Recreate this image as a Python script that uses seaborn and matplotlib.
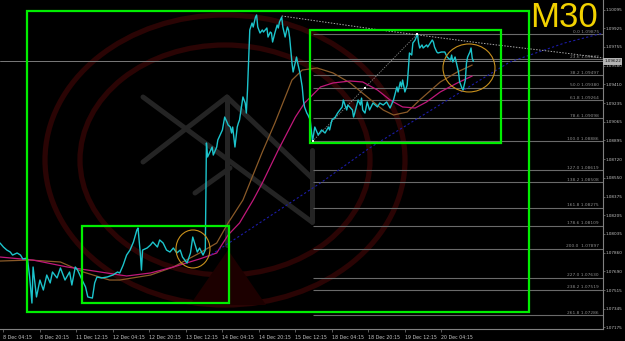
import numpy as np
import pandas as pd
import matplotlib
matplotlib.use('Agg')
import matplotlib.pyplot as plt
import matplotlib.transforms as mtransforms
from matplotlib.patches import Rectangle, Ellipse, Polygon
import seaborn as sns

# ---------------- data ----------------
price_bar = [0, 3, 6, 9, 11, 15, 18, 20, 24, 26,
             28, 29, 32, 35, 38, 41, 44, 46, 50, 53,
             57, 61, 63, 66, 68, 72, 75, 77, 81, 83,
             85, 89, 94, 99, 103, 105, 108, 111, 114, 117,
             120, 121, 123, 124, 125, 129, 132, 134, 138, 140,
             143, 146, 149, 152, 155, 158, 160, 164, 167, 169,
             173, 175, 178, 180, 181, 182, 186, 187, 190, 191,
             195, 197, 199, 200, 202, 203, 204, 206, 208, 209,
             210, 213, 215, 216, 217, 218, 219, 221, 222, 224,
             225, 226, 228, 230, 231, 234, 235, 237, 238, 239,
             241, 243, 244, 245, 247, 248, 250, 252, 253, 254,
             256, 257, 259, 260, 261, 263, 265, 266, 267, 269,
             270, 272, 274, 276, 279, 282, 285, 288, 289, 291,
             294, 296, 300, 301, 304, 305, 309, 310, 311, 314,
             316, 317, 318, 320, 322, 324, 327, 331, 333, 336,
             339, 342, 345, 348, 349, 351, 352, 353, 355, 357,
             358, 359, 361, 362, 364, 366, 367, 368, 370, 371,
             374, 375, 379, 380, 381, 383, 384, 387, 390, 392,
             395, 396, 397, 399, 401, 402, 403, 405, 406, 408,
             409, 410, 412, 413, 414, 415]
price_close = [1.07949, 1.07912, 1.07884, 1.07866, 1.07838, 1.07857, 1.07838, 1.07802, 1.07811, 1.07636,
               1.07396, 1.07728, 1.07452, 1.07608, 1.07516, 1.07654, 1.07581, 1.07682, 1.07627, 1.07719,
               1.07608, 1.07682, 1.07562, 1.07728, 1.07700, 1.07608, 1.07544, 1.07452, 1.07442, 1.07581,
               1.07636, 1.07627, 1.07636, 1.07654, 1.07682, 1.07673, 1.07746, 1.07838, 1.07884, 1.07958,
               1.08069, 1.08087, 1.07857, 1.07700, 1.07884, 1.07903, 1.07931, 1.07958, 1.07912, 1.07977,
               1.07949, 1.07884, 1.07866, 1.07903, 1.07857, 1.07884, 1.07820, 1.07765, 1.07857, 1.08004,
               1.07866, 1.07903, 1.07838, 1.07884, 1.08870, 1.08741, 1.08833, 1.08759, 1.08833, 1.08898,
               1.08990, 1.09109, 1.09063, 1.09036, 1.09017, 1.08962, 1.09017, 1.08833, 1.09017, 1.09054,
               1.09082, 1.09294, 1.09238, 1.09146, 1.09358, 1.09634, 1.09911, 1.09975, 1.09938, 1.10030,
               1.10049, 1.09938, 1.09883, 1.09911, 1.09892, 1.09929, 1.09846, 1.09892, 1.09883, 1.09800,
               1.09883, 1.09957, 1.09929, 1.09984, 1.10030, 1.09938, 1.09846, 1.09938, 1.09911, 1.09837,
               1.09607, 1.09524, 1.09616, 1.09662, 1.09607, 1.09515, 1.09386, 1.09266, 1.09202, 1.09146,
               1.09128, 1.09082, 1.08886, 1.09017, 1.08944, 1.08990, 1.08962, 1.09017, 1.08990, 1.09082,
               1.09109, 1.09146, 1.09202, 1.09266, 1.09174, 1.09220, 1.09174, 1.09109, 1.09146, 1.09266,
               1.09220, 1.09284, 1.09174, 1.09146, 1.09248, 1.09174, 1.09238, 1.09202, 1.09238, 1.09220,
               1.09248, 1.09192, 1.09266, 1.09386, 1.09340, 1.09432, 1.09386, 1.09450, 1.09340, 1.09404,
               1.09542, 1.09699, 1.09680, 1.09791, 1.09819, 1.09875, 1.09791, 1.09745, 1.09773, 1.09745,
               1.09773, 1.09754, 1.09819, 1.09800, 1.09754, 1.09708, 1.09699, 1.09708, 1.09708, 1.09662,
               1.09634, 1.09680, 1.09616, 1.09662, 1.09570, 1.09524, 1.09432, 1.09377, 1.09358, 1.09450,
               1.09607, 1.09662, 1.09708, 1.09745, 1.09653, 1.09622]

ma_slow_bar = [0, 26, 53, 73, 96, 105, 132, 152, 175, 190, 200, 213, 230, 241,
               256, 265, 278, 292, 307, 322, 336, 345, 357, 368, 386, 401, 414]
ma_slow_val = [1.07783, 1.07792, 1.07774, 1.07682, 1.07608, 1.07608, 1.07654, 1.07728,
               1.07857, 1.07949, 1.08133, 1.08345, 1.08787, 1.09054, 1.09450, 1.09542,
               1.09561, 1.09515, 1.09423, 1.09294, 1.09174, 1.09128, 1.09155, 1.09266,
               1.09432, 1.09524, 1.09588]

ma_fast_bar = [0, 29, 59, 88, 111, 132, 152, 175, 190, 200, 210, 222, 230, 244,
               259, 267, 281, 292, 307, 318, 331, 342, 353, 364, 374, 386, 401, 414]
ma_fast_val = [1.07820, 1.07792, 1.07728, 1.07682, 1.07645, 1.07673, 1.07728, 1.07802,
               1.07857, 1.08023, 1.08133, 1.08345, 1.08502, 1.08806, 1.09109, 1.09238,
               1.09386, 1.09423, 1.09441, 1.09432, 1.09358, 1.09266, 1.09202, 1.09192,
               1.09248, 1.09340, 1.09423, 1.09487]

channel_bar = [182, 281, 324, 421, 447, 495, 529]
channel_val = [1.07820, 1.08502, 1.08824, 1.09450, 1.09616, 1.09791, 1.09883]

trend_bar = [247, 333, 421, 495, 529]
trend_val = [1.10040, 1.09911, 1.09791, 1.09699, 1.09653]

fib_anchor_bar = [274, 320, 366]
fib_anchor_val = [1.08886, 1.09380, 1.09875]

fib_levels = ['0.0', '23.6', '38.2', '50.0', '61.8', '78.6', '100.0', '127.0',
              '138.2', '161.8', '178.6', '200.0', '227.0', '238.2', '261.8']
fib_prices = [1.09875, 1.09642, 1.09497, 1.09380, 1.09264, 1.09098, 1.08886, 1.08619,
              1.08508, 1.08275, 1.08109, 1.07897, 1.07630, 1.07519, 1.07286]

bid_price = 1.09622

y_ticks = [1.10095, 1.09925, 1.09755, 1.09580, 1.09410, 1.09235, 1.09065, 1.08895,
           1.08720, 1.08550, 1.08375, 1.08205, 1.08035, 1.07860, 1.07690, 1.07515,
           1.07345, 1.07175]
x_tick_bars = [3, 35, 67, 99, 131, 163, 195, 227, 259, 291, 323, 355, 387]
x_tick_labels = ['8 Dec 04:15', '8 Dec 20:15', '11 Dec 12:15', '12 Dec 04:15',
                 '12 Dec 20:15', '13 Dec 12:15', '14 Dec 04:15', '14 Dec 20:15',
                 '15 Dec 12:15', '18 Dec 04:15', '18 Dec 20:15', '19 Dec 12:15',
                 '20 Dec 04:15']

# boxes: (bar_left, bar_right, price_low, price_high)
box_big = (23.7, 463.8, 1.07313, 1.10086)
box_left = (71.9, 200.8, 1.07396, 1.08106)
box_right = (271.8, 439.2, 1.08870, 1.09911)
# circles: (bar_center, price_center, width_bars, height_price)
circ_left = (169.2, 1.07894, 29.8, 0.00350)
circ_right = (411.2, 1.09561, 45.6, 0.00442)

# ---------------- style ----------------
sns.set_theme(style='dark')
plt.rcParams['font.family'] = ['DejaVu Sans']

fig = plt.figure(figsize=(6.25, 3.41), dpi=100, facecolor='black')
ax = fig.add_axes([0, 12 / 341, 603 / 625, 329 / 341])
ax.set_facecolor('black')
ax.grid(False)
ax.set_xlim(0, 528.7)
ax.set_ylim(1.07157, 1.10187)

# ---------------- watermark (axes fraction) ----------------
W, H = 603.0, 329.0
def fr(px, py):
    return (px / W, 1 - py / H)

wm_red = '#2a0404'
for rx, ry in [(180, 145), (145, 115)]:
    ax.add_patch(Ellipse(fr(225, 160), 2 * rx / W, 2 * ry / H, transform=ax.transAxes,
                         fill=False, edgecolor=wm_red, lw=3.8, zorder=0))
ax.add_patch(Polygon([fr(228, 250), fr(190, 305), fr(266, 305)], closed=True,
                     transform=ax.transAxes, facecolor='#1c0000', edgecolor='none', zorder=0))
wm_gray = '#242424'
for (a, b) in [((143, 97), (312, 222)), ((143, 162), (227, 97)), ((227, 97), (227, 245)),
               ((227, 97), (312, 178)), ((312, 150), (312, 222)), ((195, 193), (230, 168))]:
    p0, p1 = fr(*a), fr(*b)
    ax.plot([p0[0], p1[0]], [p0[1], p1[1]], transform=ax.transAxes, color=wm_gray,
            lw=3.6, solid_capstyle='round', zorder=0.5)

# ---------------- fib levels ----------------
ax.hlines(fib_prices, fib_anchor_bar[0], 528.7, colors='#6a6a6a', lw=0.8, zorder=1)
blend = mtransforms.blended_transform_factory(ax.transAxes, ax.transData)
for lv, pr in zip(fib_levels, fib_prices):
    sep = '  ' if lv == '200.0' else ' '
    ax.text(0.9934, pr + 0.00003, f'{lv}{sep}{pr:.5f}', transform=blend, ha='right',
            va='bottom', fontsize=3.2, color='#8c8c8c', zorder=2)

ax.axhline(bid_price, color='#7a7a7a', lw=0.7, zorder=1)

# ---------------- lines ----------------
df_price = pd.DataFrame({'bar': price_bar, 'price': price_close})
df_slow = pd.DataFrame({'bar': ma_slow_bar, 'price': ma_slow_val})
df_fast = pd.DataFrame({'bar': ma_fast_bar, 'price': ma_fast_val})
df_chan = pd.DataFrame({'bar': channel_bar, 'price': channel_val})
df_trend = pd.DataFrame({'bar': trend_bar, 'price': trend_val})
df_fib = pd.DataFrame({'bar': fib_anchor_bar, 'price': fib_anchor_val})

sns.lineplot(data=df_slow, x='bar', y='price', ax=ax, color='#8a5a28', lw=0.9,
             estimator=None, sort=False, zorder=3)
sns.lineplot(data=df_fast, x='bar', y='price', ax=ax, color='#c0187a', lw=0.9,
             estimator=None, sort=False, zorder=3)
sns.lineplot(data=df_chan, x='bar', y='price', ax=ax, color='#1c1ca8', lw=0.8,
             linestyle=(0, (2, 2)), estimator=None, sort=False, zorder=3)
sns.lineplot(data=df_trend, x='bar', y='price', ax=ax, color='#a8a8a8', lw=0.7,
             linestyle=(0, (1.5, 1.5)), estimator=None, sort=False, zorder=3)
sns.lineplot(data=df_fib, x='bar', y='price', ax=ax, color='#8a8a8a', lw=0.6,
             linestyle=(0, (1.5, 1.5)), estimator=None, sort=False, zorder=3)
sns.lineplot(data=df_price, x='bar', y='price', ax=ax, color='#1cc4cc', lw=1.0,
             estimator=None, sort=False, zorder=4)
sns.scatterplot(data=df_fib, x='bar', y='price', ax=ax, color='white', marker='s',
                s=3, linewidth=0, zorder=5)

# ---------------- annotations ----------------
for (x0, x1, y0, y1) in [box_big, box_left, box_right]:
    ax.add_patch(Rectangle((x0, y0), x1 - x0, y1 - y0, fill=False,
                           edgecolor='#00ee00', lw=1.6, zorder=6))
for (cx, cy, w, h) in [circ_left, circ_right]:
    ax.add_patch(Ellipse((cx, cy), w, h, fill=False, edgecolor='#c8901c', lw=0.8, zorder=6))

# ---------------- axes ----------------
ax.set_xlabel('')
ax.set_ylabel('')
for s in ['top', 'left']:
    ax.spines[s].set_visible(False)
for s in ['right', 'bottom']:
    ax.spines[s].set_visible(True)
    ax.spines[s].set_color('#808080')
    ax.spines[s].set_linewidth(0.8)

ax.yaxis.tick_right()
ax.set_yticks(y_ticks)
ax.set_yticklabels([f'{v:.5f}' for v in y_ticks])
ax.set_xticks(x_tick_bars)
ax.set_xticklabels(x_tick_labels)
for lbl in ax.get_xticklabels():
    lbl.set_ha('left')
ax.tick_params(axis='y', right=True, left=False, labelright=True, labelleft=False,
               length=1.5, width=0.5, color='#808080', labelsize=3.0, labelcolor='#c4c4c4', pad=0.6)
ax.tick_params(axis='x', bottom=True, length=2, width=0.5, color='#808080',
               labelsize=3.4, labelcolor='#c4c4c4', pad=2)

ax.text(1.002, bid_price, f'{bid_price:.5f}', transform=blend, ha='left', va='center',
        fontsize=3.0, color='#101010',
        bbox=dict(boxstyle='square,pad=0.3', facecolor='#b4b4b4', edgecolor='none'), zorder=10,
        clip_on=False)

fig.text(598 / 625, 1 - 1 / 341, 'M30', ha='right', va='top', fontsize=25,
         color='#f2d200', family=['Liberation Sans', 'DejaVu Sans'])

fig.savefig('out.png', dpi=100, facecolor='black')
